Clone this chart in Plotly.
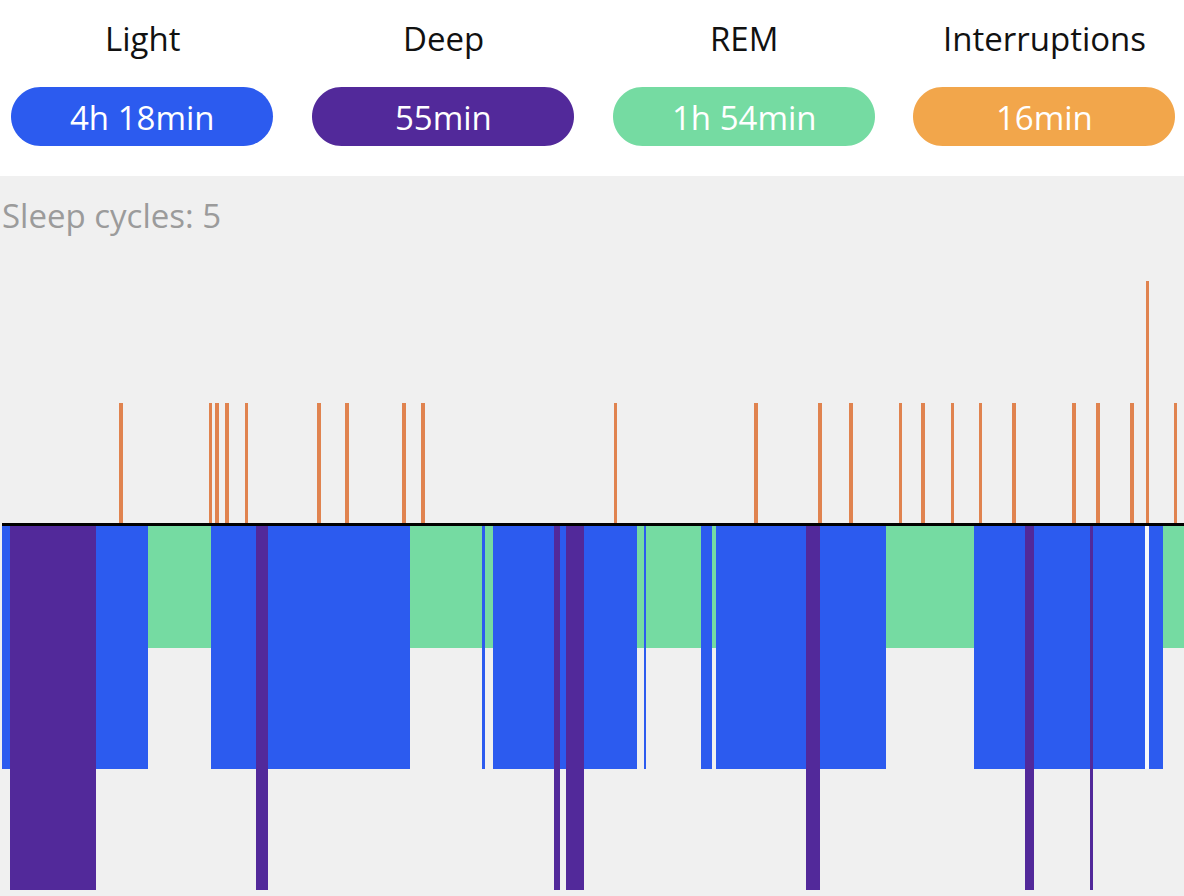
import plotly.graph_objects as go

# ---------------- data ----------------
summary_labels = ["Light", "Deep", "REM", "Interruptions"]
summary_values = ["4h 18min", "55min", "1h 54min", "16min"]
summary_colors = ["#2C5BEF", "#52299A", "#75DBA2", "#F2A64B"]
sleep_cycles = 5

# stage segments: start minute of each segment and its stage
seg_start = [0, 3.0, 35.2, 54.7, 78.3, 95.2, 99.7, 152.9, 179.9, 181.0, 184.0,
             206.9, 209.1, 211.4, 218.1, 238.0, 240.6, 241.4, 262.0, 266.1, 267.6,
             301.3, 306.6, 331.3, 364.3, 383.4, 386.8, 407.8, 408.9, 428.4, 429.9,
             435.2]
seg_stage = ["Light", "Deep", "Light", "REM", "Light", "Deep", "Light", "REM",
             "Light", "REM", "Light", "Deep", "Light", "Deep", "Light", "REM",
             "Light", "REM", "Light", "REM", "Light", "Deep", "Light", "REM",
             "Light", "Deep", "Light", "Deep", "Light", "Awake", "Light", "REM"]
night_end = 443.0

# interruptions: minute and intensity
int_time = [44.6, 78.0, 80.6, 84.3, 91.5, 118.8, 129.3, 150.7, 157.8, 229.8,
            282.6, 306.6, 318.2, 336.6, 345.2, 356.1, 366.6, 379.3, 401.8,
            410.8, 423.5, 429.2, 439.7]
int_value = [1, 1, 1, 1, 1, 1, 1, 1, 1, 1, 1, 1, 1, 1, 1, 1, 1, 1, 1, 1, 1, 2, 1]

stage_depth = {"REM": 1.014, "Light": 2.007, "Deep": 3.0, "Awake": 2.007}
stage_color = {"Light": "#2C5BEF", "Deep": "#52299A", "REM": "#75DBA2",
               "Awake": "#F6F7FC"}
int_color = "#E0834F"

W, H = 1184, 896
fig = go.Figure()

seg_end = seg_start[1:] + [night_end]
for stage in ["REM", "Light", "Awake", "Deep"]:
    xs, ws, ys = [], [], []
    for s, e, st in zip(seg_start, seg_end, seg_stage):
        if st == stage:
            xs.append((s + e) / 2)
            ws.append(e - s)
            ys.append(-stage_depth[st])
    fig.add_trace(go.Bar(x=xs, y=ys, width=ws, base=0,
                         marker=dict(color=stage_color[stage], line=dict(width=0)),
                         showlegend=False, hoverinfo="skip"))

fig.add_trace(go.Bar(x=int_time, y=int_value, width=1.2, base=0,
                     marker=dict(color=int_color, line=dict(width=0)),
                     showlegend=False, hoverinfo="skip"))

# baseline
fig.add_shape(type="line", xref="x", yref="y", x0=0, x1=night_end, y0=0, y1=0,
              line=dict(color="black", width=3), layer="above")


def px(x):
    return x / W


def py(y):
    return 1 - y / H


def pill_path(x0, y0, x1, y1):
    r = (y1 - y0) / 2
    k = 0.5523 * r
    pts = []
    pts.append(f"M {px(x0 + r)} {py(y0)}")
    pts.append(f"L {px(x1 - r)} {py(y0)}")
    pts.append(f"C {px(x1 - r + k)} {py(y0)} {px(x1)} {py(y0 + r - k)} {px(x1)} {py(y0 + r)}")
    pts.append(f"C {px(x1)} {py(y0 + r + k)} {px(x1 - r + k)} {py(y1)} {px(x1 - r)} {py(y1)}")
    pts.append(f"L {px(x0 + r)} {py(y1)}")
    pts.append(f"C {px(x0 + r - k)} {py(y1)} {px(x0)} {py(y1 - r + k)} {px(x0)} {py(y1 - r)}")
    pts.append(f"C {px(x0)} {py(y1 - r - k)} {px(x0 + r - k)} {py(y0)} {px(x0 + r)} {py(y0)}")
    pts.append("Z")
    return " ".join(pts)


pill_left = [11, 312, 613, 913]
pill_w = 262
for i, (lab, val, col) in enumerate(zip(summary_labels, summary_values, summary_colors)):
    x0 = pill_left[i]
    cx = x0 + pill_w / 2
    fig.add_shape(type="path", xref="paper", yref="paper",
                  path=pill_path(x0, 87, x0 + pill_w, 146),
                  fillcolor=col, line=dict(width=0))
    fig.add_annotation(x=px(cx), y=py(38), xref="paper", yref="paper",
                       text=lab, showarrow=False, xanchor="center", yanchor="middle",
                       font=dict(family="Open Sans", size=33, color="#111111"))
    fig.add_annotation(x=px(cx), y=py(117), xref="paper", yref="paper",
                       text=val, showarrow=False, xanchor="center", yanchor="middle",
                       font=dict(family="Open Sans", size=33, color="white"))

fig.add_annotation(x=px(0), y=py(215), xref="paper", yref="paper",
                   text=f"Sleep cycles: {sleep_cycles}", showarrow=False,
                   xanchor="left", yanchor="middle",
                   font=dict(family="Open Sans", size=33, color="#9B9B9B"))

unit = 121.8
fig.update_layout(
    width=W, height=H,
    margin=dict(l=0, r=0, t=0, b=0),
    paper_bgcolor="white",
    plot_bgcolor="#F0F0F0",
    barmode="overlay",
    bargap=0,
    xaxis=dict(range=[-0.75, night_end], visible=False, fixedrange=True),
    yaxis=dict(range=[-371.5 / unit, 348.5 / unit], visible=False,
               domain=[0, 720 / H], fixedrange=True),
    showlegend=False,
)

fig.write_html("out.html",
               config={"displayModeBar": False},
               post_script="document.body.style.margin='0px';document.body.style.overflow='hidden';")
